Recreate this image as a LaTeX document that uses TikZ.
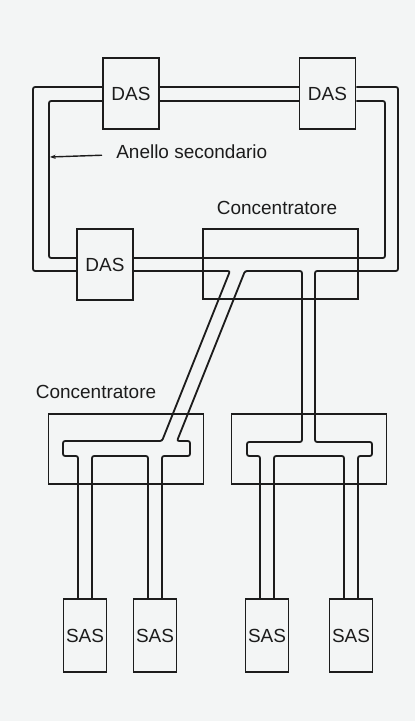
\documentclass[tikz,border=0pt]{standalone}
\usepackage{fontspec}
\setmainfont{Liberation Sans}
\usetikzlibrary{arrows.meta, calc}

\definecolor{paper}{RGB}{243,245,245}
\definecolor{ink}{RGB}{28,28,28}

\begin{document}
\begin{tikzpicture}[
    x=0.025cm, y=-0.025cm,
    font=\fontsize{13.5}{16}\selectfont,
    >={Stealth[length=4pt,width=3pt]},
    base/.style={
        rectangle,
        draw=ink,
        line width=1.3pt,
        inner sep=0pt,
        text=ink
    },
    dasbox/.style={
        base,
        minimum width=1.4cm,
        minimum height=1.775cm
    },
    sasbox/.style={
        base,
        minimum width=1.075cm,
        minimum height=1.825cm
    },
    concbox/.style={
        base,
        minimum width=3.875cm,
        minimum height=1.75cm
    },
    wire/.style={
        draw=ink,
        line width=1.3pt,
        rounded corners=1.5pt
    },
    pointer/.style={
        ->,
        draw=ink,
        line width=1pt
    },
    note/.style={
        text=ink,
        inner sep=0pt
    }
]

% --- Paper --------------------------------------------------------------------

\fill[paper] (0,0) rectangle (415,721);
\useasboundingbox (0,0) rectangle (415,721);

% --- Stations -----------------------------------------------------------------

\node[dasbox] (das1) at (131,93.5) {DAS};
\node[dasbox] (das2) at (327.5,93.5) {DAS};
\node[dasbox] (das3) at (105,264.5) {DAS};

\node[concbox] (conctop) at (280.5,264) {};
\node[concbox] (concleft) at (126,449) {};
\node[concbox] (concright) at (309,449) {};

\foreach \name/\x in {sas1/85, sas2/155, sas3/267, sas4/351} {
    \node[sasbox] (\name) at (\x,635.5) {SAS};
    \coordinate (\name l) at (\x-7,599);
    \coordinate (\name r) at (\x+7,599);
}

% --- Levels of the two rings --------------------------------------------------

\coordinate (ringO) at (0,87);
\coordinate (ringI) at (0,101);
\coordinate (lowO) at (0,271);
\coordinate (lowI) at (0,258);
\coordinate (busLo) at (0,456);

% --- Ring between the DAS -----------------------------------------------------

\draw[wire] (das1.west |- ringO) -| (33,271) -- (das3.west |- lowO);
\draw[wire] (das1.west |- ringI) -| (49,258) -- (das3.west |- lowI);
\draw[wire] (das1.east |- ringO) -- (das2.west |- ringO);
\draw[wire] (das1.east |- ringI) -- (das2.west |- ringI);
\draw[wire] (das2.east |- ringI) -| (385,258) -- (das3.east |- lowI);

% --- Trees through the concentrators ------------------------------------------

\draw[wire] (das3.east |- lowO) -- (230,271) -- (162,441) -- (63,441)
    |- (sas1l |- busLo) -- (sas1l);
\draw[wire] (sas1r) |- (sas2l |- busLo) -- (sas2l);
\draw[wire] (sas2r) |- (190,456) -- (190,441) -- (177,441) -- (245,271)
    -| (302,442) -- (247,442) |- (sas3l |- busLo) -- (sas3l);
\draw[wire] (sas3r) |- (sas4l |- busLo) -- (sas4l);
\draw[wire] (das2.east |- ringO) -| (398,271) -- (315,271) -- (315,442)
    -- (372,442) |- (sas4r |- busLo) -- (sas4r);

% --- Labels -------------------------------------------------------------------

\node[note, anchor=base west] (ringlbl) at (116,159) {Anello secondario};
\coordinate (ringhit) at (50,157);
\draw[pointer] (ringlbl.west) ++(-14,3) -- (ringhit);

\node[note] (conctoplbl) at (277,208) {Concentratore};
\node[note] (concleftlbl) at (96,392) {Concentratore};

\end{tikzpicture}
\end{document}
